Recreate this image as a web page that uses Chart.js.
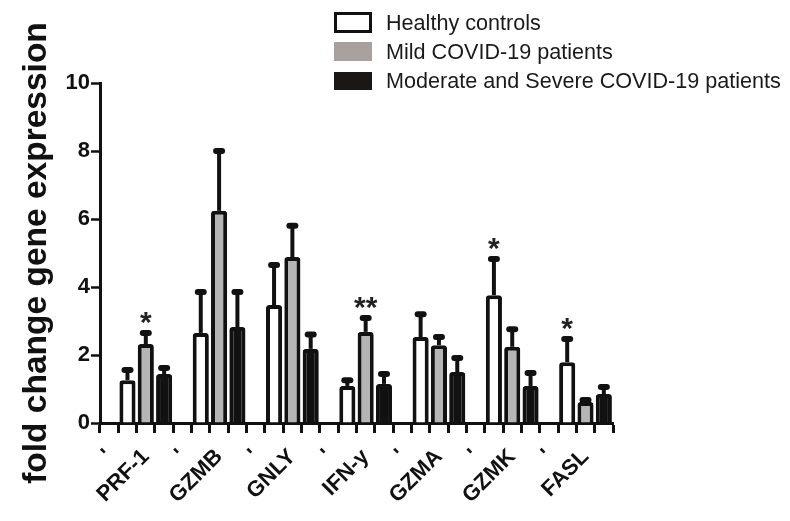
<!DOCTYPE html>
<html>
<head>
<meta charset="utf-8">
<script src="https://cdn.jsdelivr.net/npm/chart.js@4"></script>
<style>
  html, body { margin:0; padding:0; background:#fff; }
  #wrap { position:relative; width:790px; height:521px; }
  #legend { position:absolute; left:334px; top:8px; font-family:'Liberation Sans', Arial, sans-serif; font-size:21.6px; color:#1a1a1a; }
  .row { display:flex; align-items:center; height:29px; white-space:nowrap; }
  .sw { width:38px; height:19px; box-sizing:border-box; margin-right:14px; }
</style>
</head>
<body>
<div id="wrap">
  <canvas id="chart" width="790" height="521"></canvas>
  <div id="legend">
    <div class="row"><span class="sw" style="background:#fff;border:3px solid #111;height:21px"></span>Healthy controls</div>
    <div class="row"><span class="sw" style="background:#a8a19e"></span>Mild COVID-19 patients</div>
    <div class="row"><span class="sw" style="background:#1b1714;height:18px"></span>Moderate and Severe COVID-19 patients</div>
  </div>
</div>
<script>
const genes = ['PRF-1', 'GZMB', 'GNLY', 'IFN-y', 'GZMA', 'GZMK', 'FASL'];
const yTicks = [0, 2, 4, 6, 8, 10];

const healthy    = [1.26, 2.65, 3.47, 1.09, 2.53, 3.76, 1.79];
const healthySem = [0.30, 1.20, 1.18, 0.17, 0.67, 1.06, 0.68];
const mild       = [2.32, 6.24, 4.88, 2.68, 2.29, 2.24, 0.62];
const mildSem    = [0.33, 1.76, 0.92, 0.41, 0.24, 0.52, 0.06];
const severe     = [1.44, 2.82, 2.18, 1.15, 1.50, 1.09, 0.85];
const severeSem  = [0.18, 1.03, 0.42, 0.29, 0.41, 0.38, 0.21];

const healthyStars = ['', '', '', '', '', '*', '*'];
const mildStars    = ['*', '', '', '**', '', '', ''];
const severeStars  = ['', '', '', '', '', '', ''];

// each gene takes 4 slots: spacer, healthy, mild, severe
const slots = genes.flatMap(g => ["'", '', g, '']);
function toSlots(vals, k) {
  const out = new Array(slots.length).fill(null);
  vals.forEach((v, i) => { out[i * 4 + k] = v; });
  return out;
}

const FONT = "'Liberation Sans', Arial, sans-serif";

const errorBars = {
  id: 'errorBars',
  afterDatasetsDraw(chart) {
    const ctx = chart.ctx, y = chart.scales.y;
    ctx.save();
    chart.data.datasets.forEach((ds, di) => {
      chart.getDatasetMeta(di).data.forEach((bar, i) => {
        const v = ds.data[i];
        if (v == null) return;
        const top = y.getPixelForValue(v + ds.sem[i]);
        ctx.strokeStyle = '#111';
        ctx.lineCap = 'butt';
        ctx.lineWidth = 4;
        ctx.beginPath(); ctx.moveTo(bar.x, bar.y); ctx.lineTo(bar.x, top); ctx.stroke();
        ctx.lineCap = 'round';
        ctx.lineWidth = 6;
        ctx.beginPath(); ctx.moveTo(bar.x - 3, top); ctx.lineTo(bar.x + 3, top); ctx.stroke();
        const star = ds.stars[i];
        if (star) {
          ctx.fillStyle = '#222';
          ctx.font = 'bold 30px ' + FONT;
          ctx.textAlign = 'center';
          ctx.textBaseline = 'alphabetic';
          ctx.fillText(star, bar.x, top - 1);
        }
      });
    });
    ctx.restore();
  }
};

function series(label, vals, sem, stars, k, bg) {
  return {
    label, data: toSlots(vals, k), sem: toSlots(sem, k), stars: toSlots(stars, k),
    backgroundColor: bg, borderColor: '#111', borderWidth: 4,
    borderRadius: { topLeft: 3, topRight: 3 }, borderSkipped: 'start',
    grouped: false, barPercentage: 0.88, categoryPercentage: 1,
  };
}

new Chart(document.getElementById('chart'), {
  type: 'bar',
  data: {
    labels: slots,
    datasets: [
      series('Healthy controls', healthy, healthySem, healthyStars, 1, '#ffffff'),
      series('Mild COVID-19 patients', mild, mildSem, mildStars, 2, '#b5b5b5'),
      series('Moderate and Severe COVID-19 patients', severe, severeSem, severeStars, 3, '#111111'),
    ],
  },
  options: {
    responsive: false,
    animation: false,
    layout: { padding: { top: 83, right: 177, left: 0, bottom: 0 } },
    plugins: { legend: { display: false }, tooltip: { enabled: false } },
    scales: {
      x: {
        grid: { drawOnChartArea: false, tickLength: 10, tickWidth: 3, color: '#111' },
        border: { color: '#111', width: 3 },
        ticks: { autoSkip: false, maxRotation: 45, minRotation: 45, padding: 11, color: '#111',
                 font: { family: FONT, size: 22, weight: 'bold' } },
        afterFit: s => { s.height = 98; },
      },
      y: {
        min: 0, max: 10,
        afterBuildTicks: s => { s.ticks = yTicks.map(v => ({ value: v })); },
        grid: { drawOnChartArea: false, tickLength: 9, tickWidth: 2.5, color: '#111' },
        border: { color: '#111', width: 3 },
        ticks: { padding: 1, color: '#111', font: { family: FONT, size: 22, weight: 'bold' } },
        title: { display: true, text: 'fold change gene expression', color: '#111',
                 font: { family: FONT, size: 33.5, weight: 'bold' }, padding: { top: 17, bottom: 0 } },
        afterFit: s => { s.width = 100; },
      },
    },
  },
  plugins: [errorBars],
});
</script>
</body>
</html>
